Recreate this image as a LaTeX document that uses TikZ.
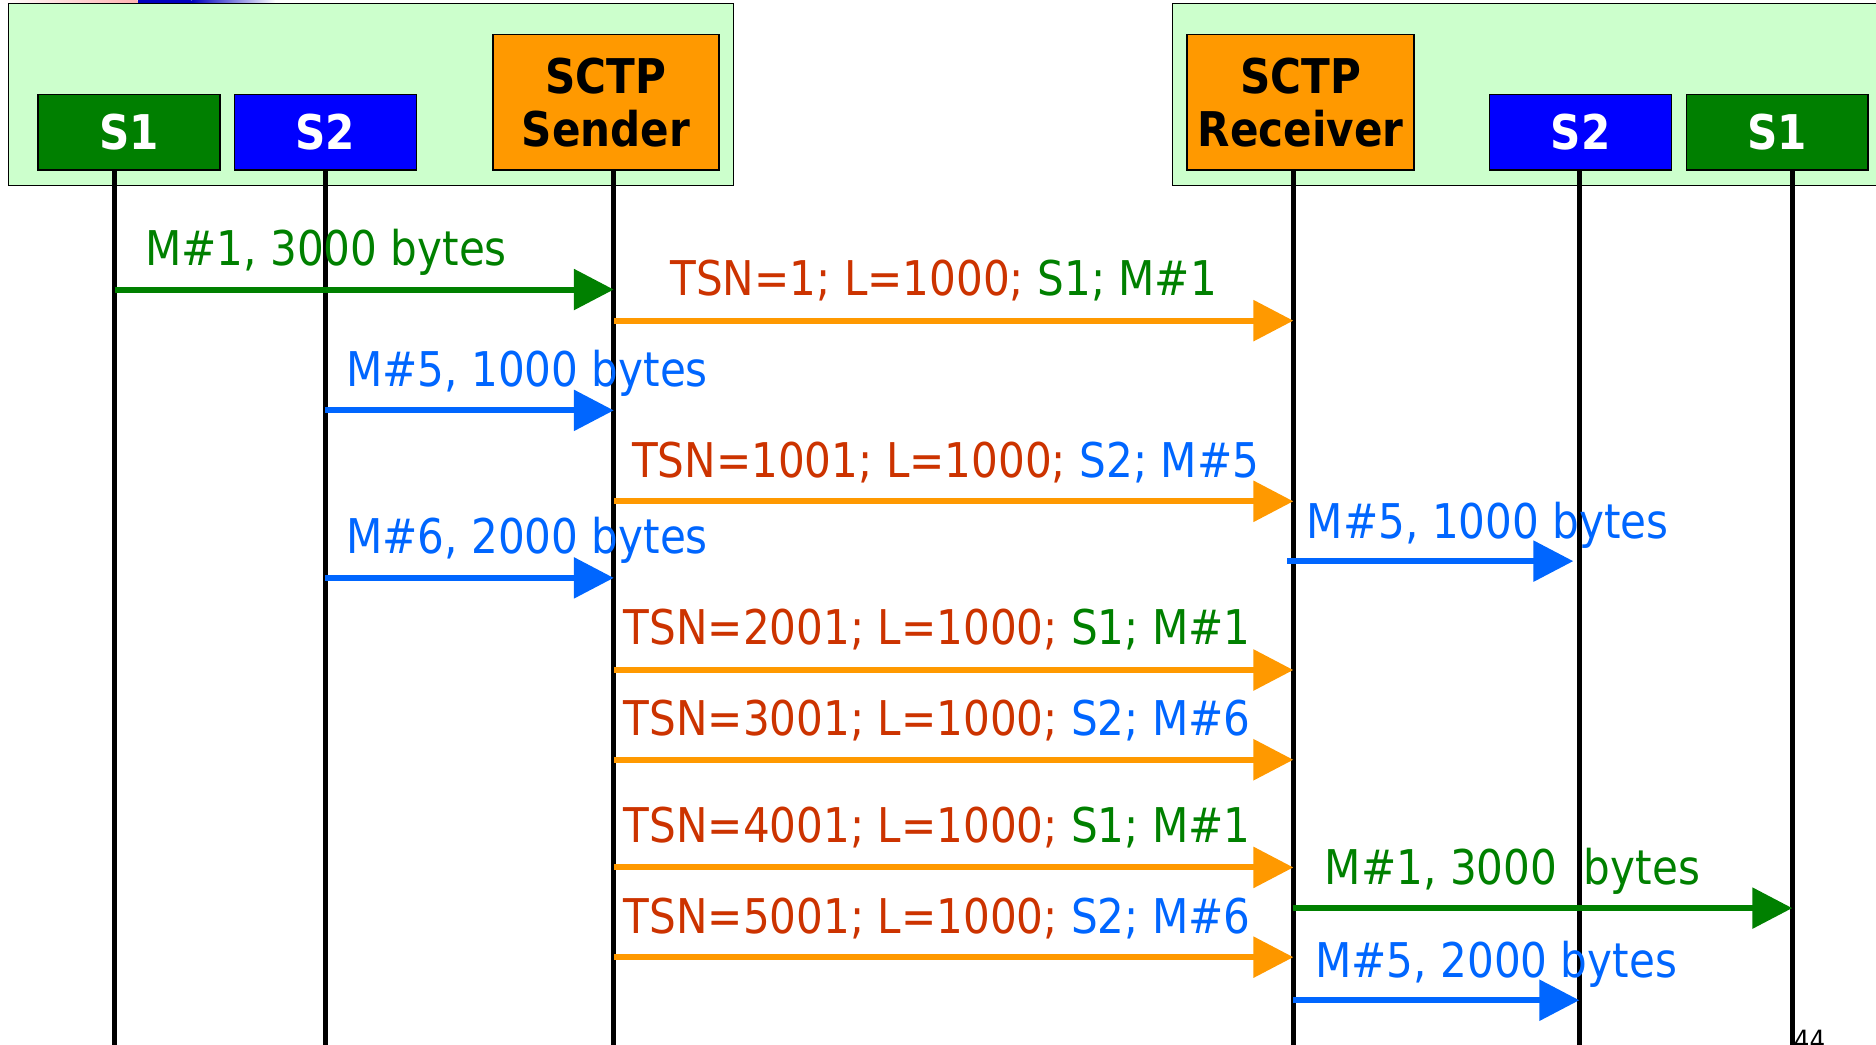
\documentclass[tikz,border=0pt]{standalone}
\usepackage{fontspec}
\setmainfont[FakeStretch=0.88]{DejaVu Sans}
\usetikzlibrary{arrows.meta}
\definecolor{panelgreen}{HTML}{CCFFCC}
\definecolor{sgreen}{HTML}{007F00}
\definecolor{sblue}{HTML}{0000FF}
\definecolor{sctporange}{HTML}{FF9900}
\definecolor{tsnred}{HTML}{CC3300}
\definecolor{mgreen}{HTML}{008000}
\definecolor{mblue}{HTML}{0066FF}
\begin{document}
\begin{tikzpicture}[x=0.6pt,y=-0.6pt,
panel/.style ={draw=black, line width=0.8pt, fill=panelgreen},
stream/.style ={rectangle, draw=black, line width=0.8pt, text=white,
  font=\fontsize{24}{26}\selectfont\bfseries,
  minimum width=91.2pt, minimum height=37.8pt, inner sep=0pt
},
sctp/.style ={rectangle, draw=black, line width=0.8pt, fill=sctporange,
  align=center, font=\fontsize{24}{26.4}\selectfont\bfseries,
  minimum width=113.6pt, minimum height=67.8pt, inner sep=0pt
},
life/.style ={line width=2.4pt},
msg/.style ={line width=3pt, -{Triangle[length=20pt,width=20pt]}},
lbl/.style ={anchor=base west, inner sep=0pt,
  font=\fontsize{24}{26}\selectfont
}]
\useasboundingbox (0,0) rectangle (1568,873);
% slide edge strip
\shade[left color=white, right color=red!30] (0,0) rectangle (115,3);
\fill[blue!75!black] (115,0) rectangle (160,3);
\shade[left color=blue!75!black, right color=white] (160,0) rectangle (230,3);
% end systems
\draw[panel] (7,3) rectangle (613,155);
\draw[panel] (980,3) rectangle (1580,155);
\node (s1a) at (108,110.5) [stream, fill=sgreen] {S1};
\node (s2a) at (272,110.5) [stream, fill=sblue] {S2};
\node (snd) at (506.5,85.5) [sctp] {SCTP\\Sender};
\node (rcv) at (1087,85.5) [sctp] {SCTP\\Receiver};
\node (s2b) at (1321,110.5) [stream, fill=sblue] {S2};
\node (s1b) at (1485.5,110.5) [stream, fill=sgreen] {S1};
% lifelines
\coordinate (s1aend) at (96,880);
\coordinate (s2aend) at (272,880);
\coordinate (sndend) at (513,880);
\coordinate (rcvend) at (1081,880);
\coordinate (s2bend) at (1320,880);
\coordinate (s1bend) at (1498,880);
\draw[life] (s1aend |- s1a.south) -- (s1aend);
\draw[life] (s2aend |- s2a.south) -- (s2aend);
\draw[life] (sndend |- snd.south) -- (sndend);
\draw[life] (rcvend |- rcv.south) -- (rcvend);
\draw[life] (s2bend |- s2b.south) -- (s2bend);
\draw[life] (s1bend |- s1b.south) -- (s1bend);
% messages
\draw[msg, mgreen] (s1aend |- 0,242) -- (sndend |- 0,242);
\node (m1) at (121,222) [lbl, text=mgreen] {M\#1, 3000 bytes};
\draw[msg, sctporange] (sndend |- 0,268) -- (rcvend |- 0,268);
\node (t1) at (560,247) [lbl] {\textcolor{tsnred}{TSN=1; L=1000;} \textcolor{mgreen}{S1; M\#1}};
\draw[msg, mblue] (s2aend |- 0,343) -- (sndend |- 0,343);
\node (m5) at (289,323) [lbl, text=mblue] {M\#5, 1000 bytes};
\draw[msg, sctporange] (sndend |- 0,419) -- (rcvend |- 0,419);
\node (t2) at (528,399) [lbl] {\textcolor{tsnred}{TSN=1001; L=1000;} \textcolor{mblue}{S2; M\#5}};
\draw[msg, mblue] ([xshift=-3pt]rcvend |- 0,469) -- ([xshift=-3pt]s2bend |- 0,469);
\node (m5r) at (1092,450) [lbl, text=mblue] {M\#5, 1000 bytes};
\draw[msg, mblue] (s2aend |- 0,483) -- (sndend |- 0,483);
\node (m6) at (289,463) [lbl, text=mblue] {M\#6, 2000 bytes};
\draw[msg, sctporange] (sndend |- 0,560) -- (rcvend |- 0,560);
\node (t3) at (521,539) [lbl] {\textcolor{tsnred}{TSN=2001; L=1000;} \textcolor{mgreen}{S1; M\#1}};
\draw[msg, sctporange] (sndend |- 0,635) -- (rcvend |- 0,635);
\node (t4) at (521,615) [lbl] {\textcolor{tsnred}{TSN=3001; L=1000;} \textcolor{mblue}{S2; M\#6}};
\draw[msg, sctporange] (sndend |- 0,725) -- (rcvend |- 0,725);
\node (t5) at (521,704) [lbl] {\textcolor{tsnred}{TSN=4001; L=1000;} \textcolor{mgreen}{S1; M\#1}};
\draw[msg, mgreen] (rcvend |- 0,759) -- (s1bend |- 0,759);
\node (m1r) at (1107,739) [lbl, text=mgreen] {M\#1, 3000~ bytes};
\draw[msg, sctporange] (sndend |- 0,800) -- (rcvend |- 0,800);
\node (t6) at (521,780) [lbl] {\textcolor{tsnred}{TSN=5001; L=1000;} \textcolor{mblue}{S2; M\#6}};
\draw[msg, mblue] (rcvend |- 0,836) -- (s2bend |- 0,836);
\node (m5b) at (1099,817) [lbl, text=mblue] {M\#5, 2000 bytes};
% page number
\node (pg) at (1499,861) [anchor=north west, inner sep=0pt, font=\fontsize{14}{14}\selectfont] {44};
\end{tikzpicture}
\end{document}
